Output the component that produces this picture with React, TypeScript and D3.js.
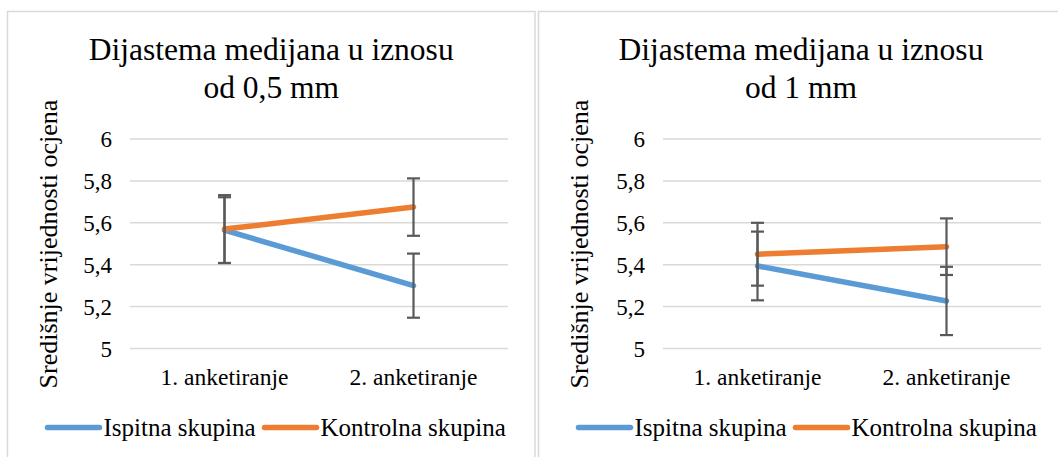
import React from "react";
import * as d3 from "d3";

const categories = ["1. anketiranje", "2. anketiranje"];
const yTicks = [5, 5.2, 5.4, 5.6, 5.8, 6];
const seriesNames = ["Ispitna skupina", "Kontrolna skupina"];
const seriesColors = ["#5B9BD5", "#ED7D31"];

const titles1 = ["Dijastema medijana u iznosu", "od 0,5 mm"];
const ispitna1 = [5.565, 5.3];
const ispitnaErr1 = [0.157, 0.153];
const kontrolna1 = [5.57, 5.675];
const kontrolnaErr1 = [0.162, 0.137];

const titles2 = ["Dijastema medijana u iznosu", "od 1 mm"];
const ispitna2 = [5.394, 5.227];
const ispitnaErr2 = [0.164, 0.163];
const kontrolna2 = [5.45, 5.486];
const kontrolnaErr2 = [0.15, 0.135];

const yTitle = "Središnje vrijednosti ocjena";
const FONT = "Liberation Serif, Times New Roman, serif";

type PanelProps = {
  x0: number;
  width: number;
  plotLeft: number;
  titles: string[];
  values: number[][];
  errors: number[][];
};

function Panel({ x0, width, plotLeft, titles, values, errors }: PanelProps) {
  const plotW = 378;
  const x = d3.scaleBand<string>().domain(categories).range([plotLeft, plotLeft + plotW]);
  const y = d3.scaleLinear().domain([5, 6]).range([348.5, 139]);
  const cx = (c: string) => (x(c) as number) + x.bandwidth() / 2;
  const line = d3
    .line<number>()
    .x((_, i) => cx(categories[i]))
    .y((d) => y(d));
  const center = x0 + width / 2;
  return (
    <g>
      <rect x={x0} y={11.5} width={width} height={470} fill="white" stroke="#D9D9D9" strokeWidth={1.5} />
      {titles.map((t, i) => (
        <text key={i} x={center} y={60 + i * 38} textAnchor="middle" fontSize={31.5} fill="#000">
          {t}
        </text>
      ))}
      {yTicks.map((t) => (
        <g key={t}>
          <line x1={plotLeft} x2={plotLeft + plotW} y1={y(t)} y2={y(t)} stroke="#D9D9D9" strokeWidth={1.5} />
          <text x={plotLeft - 18} y={y(t)} dy="0.35em" textAnchor="end" fontSize={23} fill="#000">
            {String(t).replace(".", ",")}
          </text>
        </g>
      ))}
      <text
        transform={`translate(${x0 + 40},${244}) rotate(-90)`}
        textAnchor="middle"
        dy="0.35em"
        fontSize={26}
        fill="#000"
      >
        {yTitle}
      </text>
      {categories.map((c) => (
        <text key={c} x={cx(c)} y={385} textAnchor="middle" fontSize={23.5} fill="#000">
          {c}
        </text>
      ))}
      {values.map((vals, s) => (
        <path
          key={"l" + s}
          d={line(vals) as string}
          fill="none"
          stroke={seriesColors[s]}
          strokeWidth={5.5}
          strokeLinecap="round"
          strokeLinejoin="round"
        />
      ))}
      {values.map((vals, s) =>
        vals.map((v, i) => {
          const px = cx(categories[i]);
          const e = errors[s][i];
          return (
            <g key={"e" + s + i} stroke="#595959" strokeWidth={2.2}>
              <line x1={px} x2={px} y1={y(v + e)} y2={y(v - e)} />
              <line x1={px - 6.5} x2={px + 6.5} y1={y(v + e)} y2={y(v + e)} />
              <line x1={px - 6.5} x2={px + 6.5} y1={y(v - e)} y2={y(v - e)} />
            </g>
          );
        })
      )}
      {seriesNames.map((n, s) => {
        const lx = x0 + (s === 0 ? 40 : 257);
        return (
          <g key={n}>
            <line x1={lx} x2={lx + 52} y1={427.5} y2={427.5} stroke={seriesColors[s]} strokeWidth={5.5} strokeLinecap="round" />
            <text x={lx + 56} y={427.5} dy="0.33em" fontSize={25} fill="#000">
              {n}
            </text>
          </g>
        );
      })}
    </g>
  );
}

export default function App() {
  return (
    <svg
      width={1058}
      height={457}
      fontFamily={FONT}
      style={{ position: "absolute", left: 0, top: 0, background: "white", fontFamily: FONT }}
    >
      <rect x={0} y={0} width={1058} height={457} fill="white" />
      <Panel
        x0={7.5}
        width={527.5}
        plotLeft={130}
        titles={titles1}
        values={[ispitna1, kontrolna1]}
        errors={[ispitnaErr1, kontrolnaErr1]}
      />
      <Panel
        x0={538.5}
        width={525}
        plotLeft={663}
        titles={titles2}
        values={[ispitna2, kontrolna2]}
        errors={[ispitnaErr2, kontrolnaErr2]}
      />
    </svg>
  );
}
